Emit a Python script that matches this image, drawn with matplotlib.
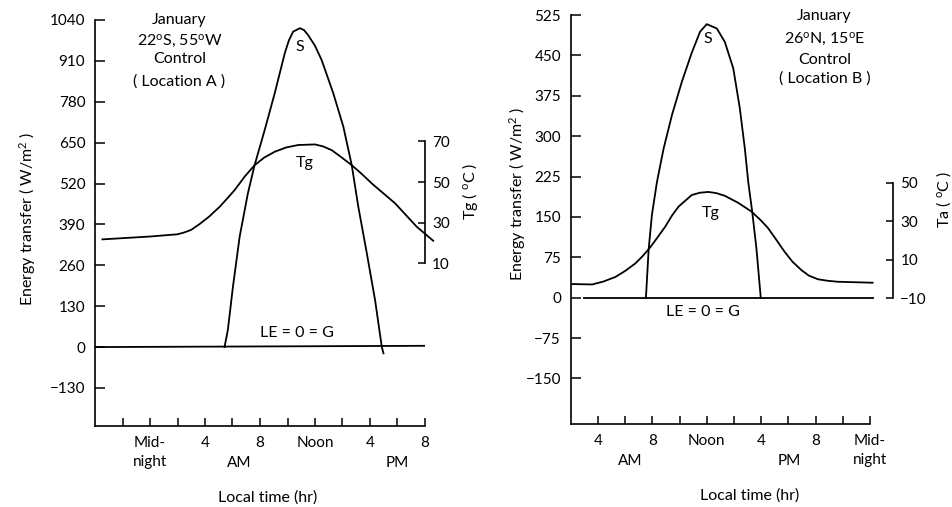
import matplotlib
matplotlib.use("Agg")
import matplotlib.pyplot as plt

plt.rcParams['font.family'] = ['Lato', 'DejaVu Sans']
plt.rcParams['font.size'] = 11.5
plt.rcParams['mathtext.fontset'] = 'custom'
plt.rcParams['mathtext.rm'] = 'Lato'
plt.rcParams['mathtext.it'] = 'Lato'

# ---- Location A (22S, 55W) ----
hours_s_a = [5.42, 5.66, 6.03, 6.52, 7.12, 7.61, 8.34, 9.07, 9.8, 10.1, 10.41, 10.9,
             11.2, 11.5, 12.0, 12.48, 13.33, 14.06, 14.67, 15.15, 15.77, 16.37,
             16.86, 16.98]
s_a = [0, 54, 191, 351, 489, 579, 690, 807, 934, 975, 1003, 1014,
       1008, 992, 958, 913, 807, 701, 579, 446, 298, 149,
       0, -20]
hours_tg_a = [-3.46, 0.0, 2.0, 2.5, 3.0, 3.6, 4.3, 5.06, 5.6, 6.15, 6.9, 7.61,
              8.3, 9.07, 9.9, 10.77, 12.0, 12.6, 13.21, 13.9, 14.67, 15.4,
              16.13, 17.83, 19.4, 20.6]
tg_a = [21.8, 23.2, 24.3, 25.2, 26.5, 29.3, 33.0, 37.8, 41.8, 46.0, 52.8, 58.3,
        62.0, 64.9, 67.0, 68.2, 68.5, 67.5, 65.7, 62.3, 58.3, 54.0,
        49.3, 39.5, 28.0, 21.1]
hours_le_a = [-3.9, 20.0]
le_a = [0, 4]

# ---- Location B (26N, 15E) ----
hours_s_b = [7.53, 7.73, 7.97, 8.34, 8.83, 9.44, 10.17, 10.9, 11.51, 12.0, 12.74,
             13.33, 13.95, 14.43, 14.8, 15.05, 15.34, 15.65, 15.97]
s_b = [0, 90, 154, 215, 277, 339, 401, 455, 494, 508, 500,
       475, 426, 352, 277, 215, 160, 92, 0]
hours_tg_b = [2.12, 3.58, 4.4, 5.29, 6.0, 6.75, 7.3, 7.85, 8.4, 8.95, 9.45, 9.93,
              10.9, 11.5, 12.12, 12.7, 13.33, 14.3, 15.29, 16.0, 16.51, 17.1,
              17.72, 18.3, 18.95, 19.5, 20.17, 20.9, 21.63, 24.19]
tg_b = [-2.6, -2.8, -1.3, 1.1, 4.2, 8.1, 12.0, 16.5, 21.8, 27.2, 33.0, 37.6,
        43.6, 44.8, 45.2, 44.6, 43.2, 39.6, 35.0, 30.3, 26.4, 20.5,
        14.2, 9.0, 4.7, 1.8, -0.1, -0.9, -1.4, -1.9]
hours_le_b = [2.98, 24.2]
le_b = [0, 0]

# ticks and labels
xticks_a = list(range(-2, 21, 2))
xlabels_a = ['', 'Mid-\nnight', '', '4', '', '8', '', 'Noon', '', '4', '', '8']
xticks_b = list(range(4, 25, 2))
xlabels_b = ['4', '', '8', '', 'Noon', '', '4', '', '8', '', 'Mid-\nnight']
yticks_a = [-130, 0, 130, 260, 390, 520, 650, 780, 910, 1040]
yticks_b = [-150, -75, 0, 75, 150, 225, 300, 375, 450, 525]
tticks_a = [10, 30, 50, 70]
tticks_b = [-10, 10, 30, 50]

info_a = ['January', '22$^{\\rm o}$S, 55$^{\\rm o}$W', 'Control', '( Location A )']
info_b = ['January', '26$^{\\rm o}$N, 15$^{\\rm o}$E', 'Control', '( Location B )']

W, H = 952, 507
fig = plt.figure(figsize=(W / 100, H / 100), dpi=100)


def px_axes(x0, x1, ytop, ybot):
    return fig.add_axes([x0 / W, 1 - ybot / H, (x1 - x0) / W, (ybot - ytop) / H])


def style_main(ax, xticks, xlabels, yticks):
    ax.spines['top'].set_visible(False)
    ax.spines['right'].set_visible(False)
    for s in ('left', 'bottom'):
        ax.spines[s].set_linewidth(1.2)
    ax.set_xticks(xticks)
    ax.set_xticklabels(xlabels)
    ax.set_yticks(yticks)
    ax.tick_params(axis='y', direction='in', length=7, width=1.1, pad=7, labelsize=11)
    ax.tick_params(axis='x', direction='in', length=6, width=1.1, pad=7, labelsize=11)
    for lbl in ax.get_xticklabels():
        lbl.set_linespacing(1.5)


def style_temp(ax2, bounds, ticks, pos):
    for s in ('left', 'top', 'bottom'):
        ax2.spines[s].set_visible(False)
    ax2.spines['right'].set_linewidth(1.2)
    ax2.spines['right'].set_bounds(*bounds)
    if pos is not None:
        ax2.spines['right'].set_position(('axes', pos))
    ax2.set_yticks(ticks)
    ax2.tick_params(axis='y', direction='in', length=5, width=1.1, pad=5, labelsize=11)


lw = 1.3

# ---------------- left panel ----------------
ax = px_axes(95, 425, 20, 426)
ax.set_xlim(-4, 20)
ax.set_ylim(-251, 1040)
style_main(ax, xticks_a, xlabels_a, yticks_a)
ax.plot(hours_s_a, s_a, color='black', lw=lw, clip_on=False)
ax.plot(hours_le_a, le_a, color='black', lw=lw)
ax.set_ylabel('Energy transfer ( W/m$^{2}$ )', va='center', ha='center')
ax.yaxis.set_label_coords(-0.205, 0.51)
ax.set_xlabel('Local time (hr)', va='center')
ax.xaxis.set_label_coords(0.524, -0.177)
ax.annotate('AM', xy=(6.5, 0), xycoords=('data', 'axes fraction'), xytext=(0, -26.5),
            textcoords='offset points', ha='center', va='center', fontsize=11)
ax.annotate('PM', xy=(18.0, 0), xycoords=('data', 'axes fraction'), xytext=(0, -26.5),
            textcoords='offset points', ha='center', va='center', fontsize=11)
for line, v in zip(info_a, [1040, 971, 915, 845]):
    ax.text(2.14, v, line, ha='center', va='center')
ax.text(10.9, 955, 'S', ha='center', va='center')
ax.text(11.27, 585, 'Tg', ha='center', va='center')
ax.text(10.68, 44, 'LE = 0 = G', ha='center', va='center')

ax2 = ax.twinx()
ax2.set_ylim(-70, 129.7)
style_temp(ax2, (10, 70), tticks_a, None)
ax2.plot(hours_tg_a, tg_a, color='black', lw=lw, clip_on=False)
ax2.set_ylabel('Tg ( $^{\\rm o}$C )', va='center', ha='center')
ax2.yaxis.set_label_coords(1.136, 0.577)

# ---------------- right panel ----------------
bx = px_axes(570.7, 870, 15, 424)
bx.set_xlim(2, 24)
bx.set_ylim(-234.5, 525)
style_main(bx, xticks_b, xlabels_b, yticks_b)
bx.plot(hours_s_b, s_b, color='black', lw=lw)
bx.plot(hours_le_b, le_b, color='black', lw=lw, clip_on=False)
bx.set_ylabel('Energy transfer ( W/m$^{2}$ )', va='center', ha='center')
bx.yaxis.set_label_coords(-0.178, 0.562)
bx.set_xlabel('Local time (hr)', va='center')
bx.xaxis.set_label_coords(0.599, -0.174)
bx.annotate('AM', xy=(6.4, 0), xycoords=('data', 'axes fraction'), xytext=(0, -26.5),
            textcoords='offset points', ha='center', va='center', fontsize=11)
bx.annotate('PM', xy=(18.1, 0), xycoords=('data', 'axes fraction'), xytext=(0, -26.5),
            textcoords='offset points', ha='center', va='center', fontsize=11)
for line, v in zip(info_b, [523.5, 480.4, 441.4, 407.4]):
    bx.text(20.65, v, line, ha='center', va='center')
bx.text(12.1, 480, 'S', ha='center', va='center')
bx.text(12.3, 157, 'Tg', ha='center', va='center')
bx.text(11.75, -26, 'LE = 0 = G', ha='center', va='center')

bx2 = bx.twinx()
bx2.set_ylim(-75.2, 137)
style_temp(bx2, (-10, 50), tticks_b, 1.078)
bx2.plot(hours_tg_b, tg_b, color='black', lw=lw, clip_on=False)
bx2.set_ylabel('Ta ( $^{\\rm o}$C )', va='center', ha='center')
bx2.yaxis.set_label_coords(1.245, 0.55)

fig.savefig('out.png', dpi=100)
